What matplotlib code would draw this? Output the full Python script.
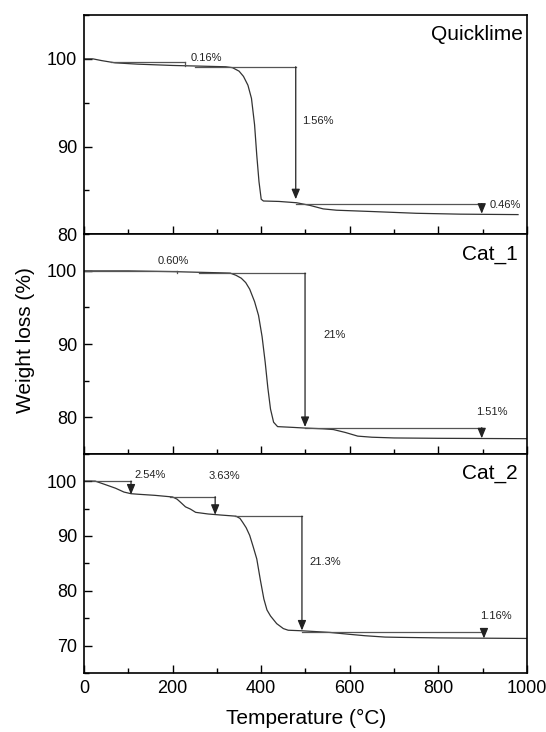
import matplotlib.pyplot as plt
from matplotlib.ticker import MultipleLocator

plt.rcParams['font.family'] = ['Liberation Sans', 'DejaVu Sans']

# --- TGA curves (temperature in degC, weight in %) ---
temp_quick = [0, 20, 40, 70, 120, 200, 280, 320, 335, 350, 360, 370, 378,
              385, 390, 395, 400, 405, 440, 480, 510, 540, 570, 650, 750,
              850, 980]
wt_quick = [100.0, 100.0, 99.8, 99.55, 99.4, 99.25, 99.15, 99.1, 99.0, 98.6,
            98.0, 97.0, 95.5, 92.5, 89.0, 86.0, 84.0, 83.8, 83.75, 83.6,
            83.3, 82.9, 82.75, 82.6, 82.4, 82.3, 82.25]

temp_cat1 = [0, 100, 200, 300, 330, 343, 355, 365, 374, 385, 394, 402, 409,
             415, 421, 428, 437, 470, 500, 540, 563, 590, 618, 650, 700, 800,
             1000]
wt_cat1 = [100.0, 100.0, 99.9, 99.75, 99.7, 99.4, 99.0, 98.4, 97.5, 95.8,
           93.9, 91.0, 87.5, 84.0, 81.1, 79.3, 78.7, 78.6, 78.5, 78.4, 78.3,
           77.9, 77.4, 77.25, 77.15, 77.1, 77.05]

temp_cat2 = [0, 25, 50, 71, 90, 106, 122, 160, 200, 210, 217, 229, 240, 252,
             280, 310, 343, 352, 358, 366, 374, 382, 390, 398, 406, 413, 421,
             435, 450, 461, 492, 555, 600, 634, 680, 713, 800, 1000]
wt_cat2 = [100.0, 100.0, 99.3, 98.7, 98.0, 97.7, 97.6, 97.4, 97.1, 96.7, 96.2,
           95.3, 94.9, 94.3, 94.0, 93.8, 93.6, 93.2, 92.5, 91.5, 90.1, 88.0,
           85.8, 82.0, 78.5, 76.5, 75.4, 74.0, 73.1, 72.8, 72.7, 72.4, 72.05,
           71.8, 71.55, 71.5, 71.4, 71.3]

sample_names = ["Quicklime", "Cat_1", "Cat_2"]
y_limits = [(80, 105), (75, 105), (65, 105)]

# weight-loss steps: (start T, arrow T, level, end level, arrow head, label)
steps_quick = [(60, 228, 99.7, 99.2, False, "0.16%"),
               (250, 478, 99.1, 84.0, True, "1.56%"),
               (478, 898, 83.5, 82.35, True, "0.46%")]
steps_cat1 = [(0, 210, 100.05, 99.75, False, "0.60%"),
              (260, 499, 99.7, 78.65, True, "21%"),
              (499, 898, 78.55, 77.1, True, "1.51%")]
steps_cat2 = [(20, 106, 100.0, 97.55, True, "2.54%"),
              (195, 296, 97.15, 93.85, True, "3.63%"),
              (340, 492, 93.6, 72.75, True, "21.3%"),
              (492, 903, 72.5, 71.3, True, "1.16%")]

# label anchor for each step (left edge, vertical centre)
label_pos = [[(240, 100.15), (492, 92.9), (915, 83.4)],
             [(165, 101.4), (540, 91.2), (885, 80.7)],
             [(113, 101.1), (280, 100.9), (508, 85.3), (894, 75.4)]]

curves = [(temp_quick, wt_quick), (temp_cat1, wt_cat1), (temp_cat2, wt_cat2)]
all_steps = [steps_quick, steps_cat1, steps_cat2]

fig, axes = plt.subplots(3, 1, sharex=True, figsize=(5.46, 7.32), dpi=100)
fig.subplots_adjust(left=0.154, right=0.965, top=0.9795, bottom=0.0806,
                    hspace=0)

line_col = "#333333"
step_col = "#555555"

for i, ax in enumerate(axes):
    t, w = curves[i]
    ax.plot(t, w, color=line_col, lw=0.9)

    for (x0, x1, y0, y1, head, lab), (tx, ty) in zip(all_steps[i], label_pos[i]):
        ax.plot([x0, x1], [y0, y0], color=step_col, lw=0.9)
        if head:
            ax.annotate("", xy=(x1, y1), xytext=(x1, y0),
                        arrowprops=dict(arrowstyle="-|>,head_length=0.6,head_width=0.25",
                                        color="#222222", lw=0.9, shrinkA=0,
                                        shrinkB=0, mutation_scale=10))
        else:
            ax.plot([x1, x1], [y0, y1], color=step_col, lw=0.9)
        ax.text(tx, ty, lab, fontsize=8, ha="left", va="center", color="#222222")

    ax.text(0.99 if i == 0 else 0.98, 0.91, sample_names[i], transform=ax.transAxes,
            ha="right", va="center", fontsize=15)

    ax.set_xlim(0, 1000)
    ax.set_ylim(*y_limits[i])
    ax.xaxis.set_major_locator(MultipleLocator(200))
    ax.xaxis.set_minor_locator(MultipleLocator(100))
    ax.yaxis.set_major_locator(MultipleLocator(10))
    ax.yaxis.set_minor_locator(MultipleLocator(5))
    ax.tick_params(which="both", direction="in", top=False, right=False,
                   width=1.0, labelsize=13)
    ax.tick_params(which="major", length=6, pad=5)
    ax.tick_params(which="minor", length=3.5)
    for sp in ax.spines.values():
        sp.set_linewidth(1.2)

# hide y labels that would sit on the panel joins
axes[1].set_yticks([80, 90, 100])
axes[2].set_yticks([70, 80, 90, 100])

fig.text(0.046, 0.535, "Weight loss (%)", rotation=90, ha="center",
         va="center", fontsize=15)
fig.text(0.56, 0.019, "Temperature (\u00b0C)", ha="center", va="center",
         fontsize=15)

fig.savefig("out.png", dpi=100)
